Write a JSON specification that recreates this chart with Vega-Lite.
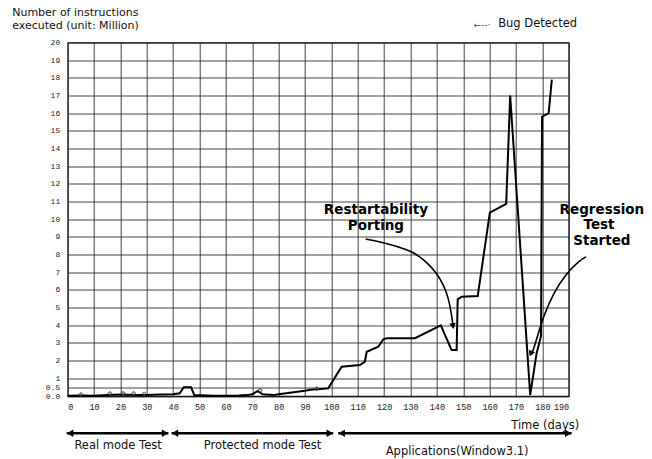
{
  "$schema": "https://vega.github.io/schema/vega-lite/v6.json",
  "width": 501,
  "height": 353.5,
  "autosize": {"type": "none"},
  "padding": {"left": 67.7, "top": 42.5, "right": 83.3, "bottom": 63},
  "background": "white",
  "config": {
    "view": {"stroke": "#111", "strokeWidth": 1.2},
    "axis": {
      "domain": false,
      "ticks": false,
      "grid": true,
      "gridColor": "#222",
      "gridWidth": 1,
      "gridOpacity": 0.85,
      "labelFont": "Liberation Mono",
      "labelColor": "#222",
      "labelOverlap": false,
      "titleFont": "DejaVu Sans",
      "titleFontWeight": "normal",
      "titleColor": "#111"
    }
  },
  "datasets": {
    "main": [
      {"day": 0, "value": 0.02}, {"day": 5, "value": 0.03}, {"day": 10, "value": 0.02},
      {"day": 15, "value": 0.05}, {"day": 20, "value": 0.08}, {"day": 25, "value": 0.05},
      {"day": 30, "value": 0.06}, {"day": 35, "value": 0.08}, {"day": 40, "value": 0.1},
      {"day": 42.5, "value": 0.15}, {"day": 44, "value": 0.5}, {"day": 46.8, "value": 0.5},
      {"day": 48, "value": 0.05}, {"day": 55, "value": 0.02}, {"day": 60, "value": 0.02},
      {"day": 65, "value": 0.03}, {"day": 68, "value": 0.05}, {"day": 70, "value": 0.1},
      {"day": 72, "value": 0.28}, {"day": 74, "value": 0.1}, {"day": 78, "value": 0.05},
      {"day": 80, "value": 0.1}, {"day": 85, "value": 0.2}, {"day": 90, "value": 0.3},
      {"day": 92, "value": 0.35}, {"day": 96, "value": 0.4}, {"day": 98.8, "value": 0.43},
      {"day": 103.9, "value": 1.66}, {"day": 110.8, "value": 1.75}, {"day": 112.7, "value": 1.94},
      {"day": 113.4, "value": 2.5}, {"day": 117.8, "value": 2.79}, {"day": 119.7, "value": 3.21},
      {"day": 121, "value": 3.27}, {"day": 131.7, "value": 3.27}, {"day": 141.5, "value": 4.0},
      {"day": 145.6, "value": 2.6}, {"day": 147.5, "value": 2.6}, {"day": 147.9, "value": 5.47},
      {"day": 149.4, "value": 5.62}, {"day": 155.5, "value": 5.66}, {"day": 160.1, "value": 10.37},
      {"day": 166.3, "value": 10.87}, {"day": 167.8, "value": 17.0}, {"day": 175.4, "value": 0.05},
      {"day": 177.8, "value": 2.4}, {"day": 179.5, "value": 3.4}, {"day": 179.9, "value": 15.8},
      {"day": 182.4, "value": 16.0}, {"day": 183.6, "value": 17.9}
    ],
    "bugs": [
      {"day": 5, "value": 0.08}, {"day": 16, "value": 0.14}, {"day": 21, "value": 0.15},
      {"day": 25, "value": 0.14}, {"day": 29, "value": 0.12}, {"day": 73, "value": 0.32},
      {"day": 94.4, "value": 0.42}
    ],
    "curves": [
      {"curve": "r", "day": 113, "value": 8.88}, {"curve": "r", "day": 118.4, "value": 8.73},
      {"curve": "r", "day": 124, "value": 8.5}, {"curve": "r", "day": 131, "value": 8.17},
      {"curve": "r", "day": 136, "value": 7.6}, {"curve": "r", "day": 140, "value": 6.94},
      {"curve": "r", "day": 142.5, "value": 6.3}, {"curve": "r", "day": 144.3, "value": 5.6},
      {"curve": "r", "day": 145.5, "value": 4.7}, {"curve": "r", "day": 146.1, "value": 4.0},
      {"curve": "g", "day": 196.6, "value": 7.87}, {"curve": "g", "day": 194.3, "value": 7.7},
      {"curve": "g", "day": 188.6, "value": 6.85}, {"curve": "g", "day": 184.2, "value": 5.81},
      {"curve": "g", "day": 180.4, "value": 4.49}, {"curve": "g", "day": 178.5, "value": 3.55},
      {"curve": "g", "day": 176.6, "value": 2.6}, {"curve": "g", "day": 175.8, "value": 2.35}
    ],
    "heads": [
      {"day": 146.1, "value": 3.95, "shape": "triangle-down", "ang": -9, "sz": 45},
      {"day": 175.65, "value": 2.4, "shape": "triangle-down", "ang": 22, "sz": 45},
      {"day": 0.9, "value": -2.11, "shape": "triangle-left", "ang": 0, "sz": 55},
      {"day": 36.9, "value": -2.11, "shape": "triangle-right", "ang": 0, "sz": 55},
      {"day": 40.7, "value": -2.11, "shape": "triangle-left", "ang": 0, "sz": 55},
      {"day": 99.4, "value": -2.11, "shape": "triangle-right", "ang": 0, "sz": 55},
      {"day": 103.9, "value": -2.11, "shape": "triangle-left", "ang": 0, "sz": 55},
      {"day": 189.8, "value": -2.11, "shape": "triangle-right", "ang": 0, "sz": 55}
    ],
    "spans": [
      {"day": -0.4, "day2": 38.2, "value": -2.11},
      {"day": 39.4, "day2": 100.7, "value": -2.11},
      {"day": 102.6, "day2": 191.1, "value": -2.11}
    ],
    "bold": [
      {"day": 116.9, "value": 10.5, "label": "Restartability"},
      {"day": 116.9, "value": 9.6, "label": "Porting"},
      {"day": 202.6, "value": 10.55, "label": "Regression"},
      {"day": 201.5, "value": 9.65, "label": "Test"},
      {"day": 202.6, "value": 8.75, "label": "Started"}
    ],
    "labels": [
      {"day": 19.1, "value": -2.81, "label": "Real mode Test"},
      {"day": 73.9, "value": -2.81, "label": "Protected mode Test"},
      {"day": 147.7, "value": -3.15, "label": "Applications(Window3.1)"},
      {"day": 178.2, "value": 21.05, "label": "Bug Detected"}
    ],
    "legendSymbol": [
      {"day": 157.1, "value": 21.0, "label": "←--·"}
    ]
  },
  "encoding": {
    "x": {
      "field": "day",
      "type": "quantitative",
      "scale": {"domain": [0, 190], "nice": false, "zero": false},
      "axis": {
        "values": [0, 10, 20, 30, 40, 50, 60, 70, 80, 90, 100, 110, 120, 130, 140, 150, 160, 170, 180, 190],
        "labelFontSize": 8.5,
        "labelPadding": 6,
        "title": "Time  (days)",
        "titleFontSize": 11.5,
        "titleX": 477,
        "titleY": 29,
        "titleAlign": "center",
        "titleBaseline": "middle"
      }
    },
    "y": {
      "field": "value",
      "type": "quantitative",
      "scale": {"domain": [0, 20], "nice": false, "zero": false},
      "axis": {
        "values": [0, 0.5, 1, 2, 3, 4, 5, 6, 7, 8, 9, 10, 11, 12, 13, 14, 15, 16, 17, 18, 19, 20],
        "labelExpr": "datum.value == 0 ? '0.0' : (datum.value == 0.5 ? '0.5' : format(datum.value, 'd'))",
        "labelFontSize": 8,
        "labelPadding": 8,
        "title": ["Number of instructions", "executed (unit: Million)"],
        "titleFontSize": 11,
        "titleLineHeight": 12.5,
        "titleAngle": 0,
        "titleAlign": "left",
        "titleBaseline": "top",
        "titleX": -56,
        "titleY": -36
      }
    }
  },
  "layer": [
    {
      "data": {"name": "main"},
      "mark": {"type": "line", "color": "#000", "strokeWidth": 2, "strokeJoin": "miter"}
    },
    {
      "data": {"name": "bugs"},
      "mark": {"type": "point", "shape": "cross", "size": 12, "filled": false, "color": "#444", "strokeWidth": 0.8, "opacity": 1}
    },
    {
      "data": {"name": "curves"},
      "mark": {"type": "line", "color": "#000", "strokeWidth": 1.6, "interpolate": "basis"},
      "encoding": {"detail": {"field": "curve"}}
    },
    {
      "data": {"name": "spans"},
      "mark": {"type": "rule", "color": "#000", "strokeWidth": 2.5},
      "encoding": {"x2": {"field": "day2"}}
    },
    {
      "data": {"name": "heads"},
      "mark": {"type": "point", "filled": true, "color": "#000", "opacity": 1},
      "encoding": {
        "shape": {"field": "shape", "type": "nominal", "scale": null},
        "angle": {"field": "ang", "type": "quantitative", "scale": null},
        "size": {"field": "sz", "type": "quantitative", "scale": null}
      }
    },
    {
      "data": {"name": "bold"},
      "mark": {"type": "text", "font": "DejaVu Sans", "fontWeight": "bold", "fontSize": 13.5, "color": "#000", "align": "center", "baseline": "middle"},
      "encoding": {"text": {"field": "label"}}
    },
    {
      "data": {"name": "labels"},
      "mark": {"type": "text", "font": "DejaVu Sans", "fontSize": 11.5, "color": "#111", "align": "center", "baseline": "middle"},
      "encoding": {"text": {"field": "label"}}
    },
    {
      "data": {"name": "legendSymbol"},
      "mark": {"type": "text", "font": "DejaVu Sans", "fontSize": 9, "color": "#555", "align": "center", "baseline": "middle"},
      "encoding": {"text": {"field": "label"}}
    }
  ]
}
